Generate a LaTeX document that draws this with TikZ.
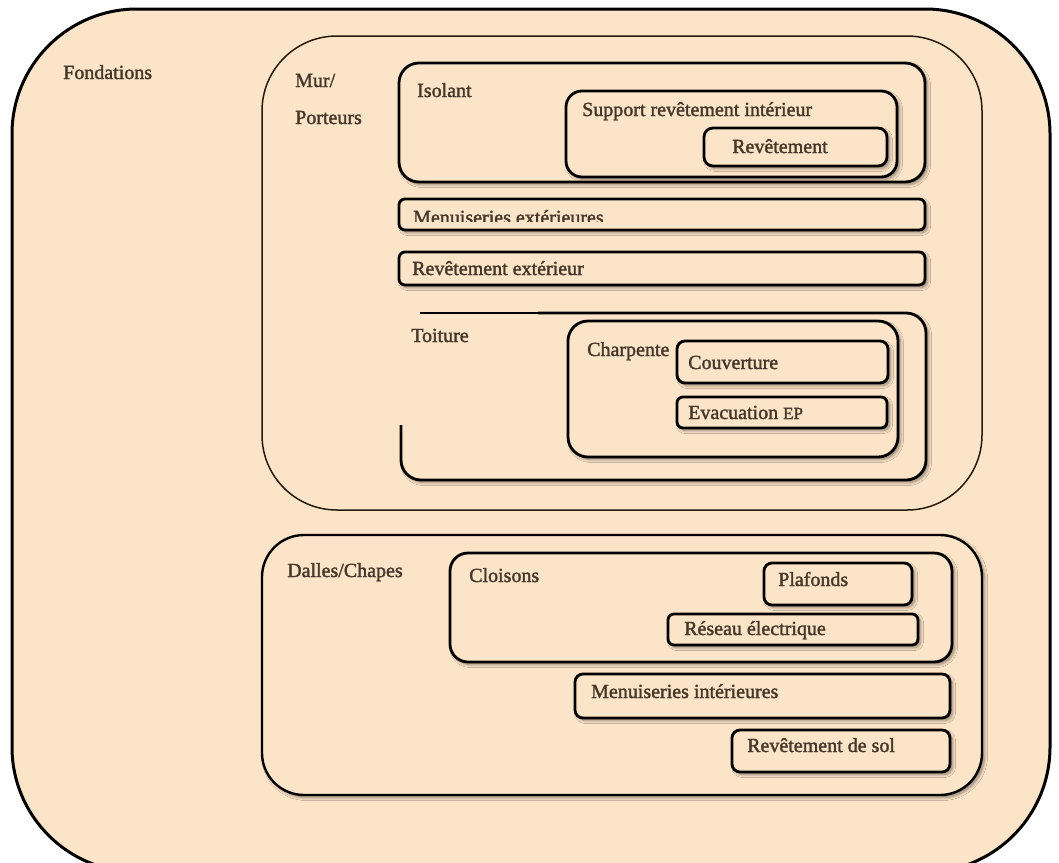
\documentclass[tikz,border=0pt]{standalone}
\usepackage{fontspec}
\setmainfont{Liberation Serif}
\newfontfamily\lblfont[FakeBold=1.6]{Liberation Serif}
\usetikzlibrary{shadows.blur}
\definecolor{peach}{HTML}{FCE4C8}
\definecolor{ink}{HTML}{45372A}
\tikzset{
  zone/.style={fill=peach, draw=black, line width=2.8pt},
  shadowed/.style={blur shadow={shadow xshift=2.5pt, shadow yshift=-2.5pt,
      shadow blur radius=3pt, shadow blur steps=6, shadow opacity=45}},
  lbl/.style={anchor=base west, inner sep=0pt, text=ink, font=\lblfont\fontsize{20}{22}\selectfont},
}
\begin{document}
\begin{tikzpicture}[x=1pt, y=-1pt]
\useasboundingbox (0,0) rectangle (1059,862);
\clip (0,0) rectangle (1059,862);
\fill[white] (0,0) rectangle (1059,862);

% Fondations
\path[zone, line width=3pt, rounded corners=125pt] (12,9) rectangle (1050,872);
\node[lbl] (fond) at (63,79) {Fondations};

% Mur / Porteurs
\path[fill=peach, draw=black!80!brown, line width=1.5pt, rounded corners=75pt] (262,36) rectangle (982,510);
\node[lbl] (mur) at (295,87) {Mur/};
\node[lbl] (port) at (295,124) {Porteurs};

% Isolant and its nested coverings
\path[zone, shadowed, rounded corners=20pt] (399,63) rectangle (925,182);
\node[lbl] (iso) at (417,97) {Isolant};
\path[zone, shadowed, rounded corners=16pt] (566,91) rectangle (897,177);
\node[lbl] (supp) at (582,116) {Support revêtement intérieur};
\path[zone, shadowed, rounded corners=9pt] (704,128) rectangle (887,166);
\node[lbl] (rev) at (732,153) {Revêtement};

% Menuiseries exterieures (label cut at its lower part)
\path[zone, shadowed, rounded corners=6pt] (399,199) rectangle (925,230);
\begin{scope}
  \clip (399,201) rectangle (925,221);
  \node[lbl] (menext) at (413,224) {Menuiseries extérieures};
\end{scope}

% Revetement exterieur
\path[zone, shadowed, rounded corners=6pt] (399,252) rectangle (925,285);
\node[lbl] (revext) at (412,275) {Revêtement extérieur};

% Toiture: open top-left corner
\path[fill=peach, shadowed, rounded corners=20pt] (401,313) rectangle (926,480);
\fill[peach] (398,311) rectangle (440,330);
\fill[peach] (398,311) rectangle (405,426);
\draw[black, line width=1.6pt] (420,313) -- (540,313);
\draw[black, line width=2.8pt, line join=round, rounded corners=20pt]
  (538,313) -- (926,313) -- (926,480) -- (401,480) -- (401,425);
\node[lbl] (toit) at (411,342) {Toiture};

% Charpente and its components
\path[zone, shadowed, rounded corners=20pt] (568,321) rectangle (898,457);
\node[lbl] (charp) at (587,356) {Charpente};
\path[zone, shadowed, rounded corners=8pt] (677,341) rectangle (888,383);
\node[lbl] (couv) at (688,369) {Couverture};
\path[zone, shadowed, rounded corners=6pt] (677,397) rectangle (887,428);
\node[lbl] (evac) at (688,419) {Evacuation {\fontsize{17}{20}\selectfont EP}};

% Dalles / Chapes
\path[fill=peach, draw=black, line width=2.4pt, shadowed, rounded corners=42pt] (262,535) rectangle (982,795);
\node[lbl] (dalles) at (287,577) {Dalles/Chapes};

% Cloisons and contents
\path[zone, shadowed, rounded corners=18pt] (450,553) rectangle (952,662);
\node[lbl] (clois) at (469,582) {Cloisons};
\path[zone, shadowed, rounded corners=8pt] (764,563) rectangle (912,605);
\node[lbl] (plaf) at (778,586) {Plafonds};
\path[zone, shadowed, rounded corners=6pt] (668,614) rectangle (918,645);
\node[lbl] (reseau) at (684,635) {Réseau électrique};

% Menuiseries interieures
\path[zone, shadowed, rounded corners=8pt] (575,674) rectangle (950,718);
\node[lbl] (menint) at (591,698) {Menuiseries intérieures};

% Revetement de sol
\path[zone, shadowed, rounded corners=8pt] (732,730) rectangle (950,772);
\node[lbl] (sol) at (747,752) {Revêtement de sol};
\end{tikzpicture}
\end{document}
